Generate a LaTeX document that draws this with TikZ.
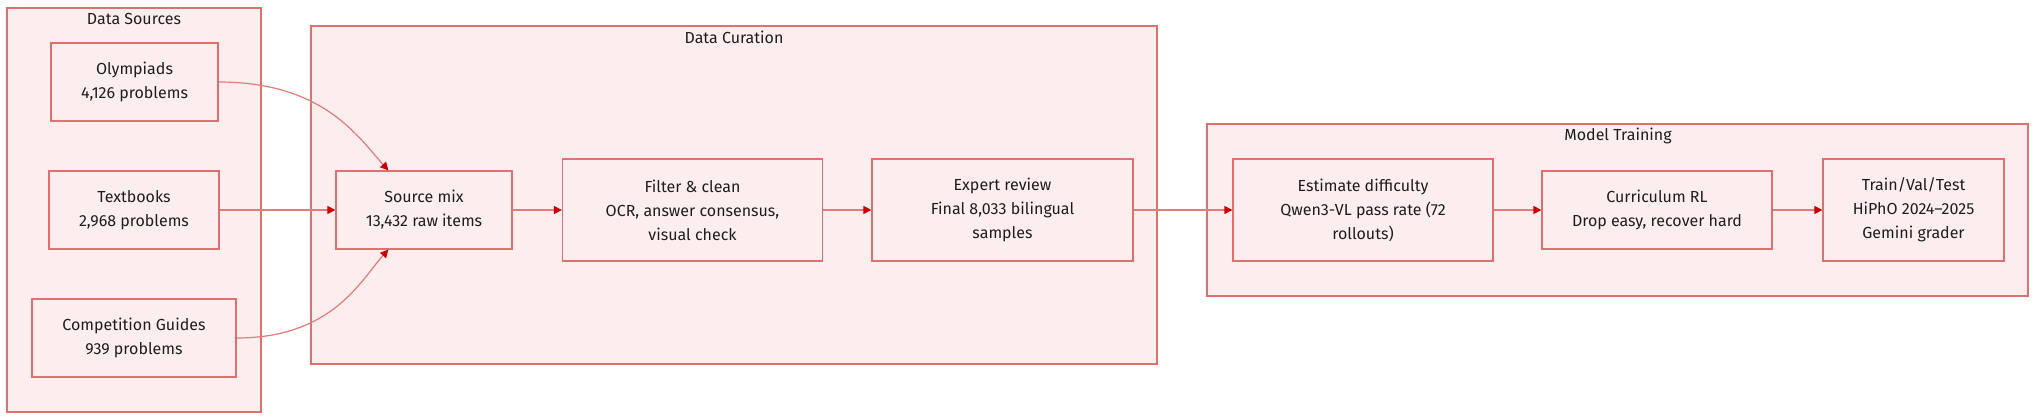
\documentclass[tikz,border=0pt]{standalone}
\usepackage{fontspec}
\setmainfont{Fira Sans}
\usetikzlibrary{arrows.meta}
\definecolor{boxfill}{RGB}{252,238,238}
\definecolor{boxline}{RGB}{222,112,112}
\definecolor{flowline}{RGB}{228,122,122}
\definecolor{tipred}{RGB}{204,0,0}
\definecolor{inktext}{RGB}{30,30,30}

\begin{document}
\begin{tikzpicture}[x=1pt, y=1pt, font=\fontsize{16}{24}\selectfont]
    \useasboundingbox (0,0) rectangle (2037,420);

    % groups
    \begin{scope}[every node/.style={rectangle, fill=boxfill, draw=boxline, line width=1.2pt, inner sep=0pt}]
        \node[minimum width=254pt, minimum height=404pt] (sources) at (134,210) {};
        \node[minimum width=846pt, minimum height=338pt] (curation) at (734,225) {};
        \node[minimum width=821pt, minimum height=172pt] (training) at (1617.5,210) {};
    \end{scope}

    \begin{scope}[every node/.style={text=inktext}]
        \node (sourcestitle) at (134,401) {Data Sources};
        \node (curationtitle) at (734,383) {Data Curation};
        \node (trainingtitle) at (1618,284) {Model Training};
    \end{scope}

    % steps
    \begin{scope}[every node/.style={rectangle, fill=boxfill, draw=boxline, line width=1.2pt, align=center, text=inktext, minimum height=78pt}]
        \node[minimum width=167pt] (olymp) at (134.5,338) {Olympiads\\4,126 problems};
        \node[minimum width=170pt] (textb) at (134,210) {Textbooks\\2,968 problems};
        \node[minimum width=204pt] (guides) at (134,82) {Competition Guides\\939 problems};
        \node[minimum width=176pt] (mix) at (424,210) {Source mix\\13,432 raw items};
        \node[minimum width=260pt, minimum height=102pt] (filter) at (692.5,210) {Filter \& clean\\OCR, answer consensus,\\visual check};
        \node[minimum width=261pt, minimum height=102pt] (review) at (1002.5,210) {Expert review\\Final 8,033 bilingual\\samples};
        \node[minimum width=260pt, minimum height=102pt] (diff) at (1363,210) {Estimate difficulty\\Qwen3-VL pass rate (72\\rollouts)};
        \node[minimum width=230pt] (curric) at (1657,210) {Curriculum RL\\Drop easy, recover hard};
        \node[minimum width=181pt, minimum height=102pt] (split) at (1913.5,210) {Train/Val/Test\\HiPhO 2024–2025\\Gemini grader};
    \end{scope}

    % flow
    \begin{scope}[every edge/.style={draw=flowline, line width=1.2pt, -{Triangle[length=8pt, width=8pt, color=tipred]}}]
        \path (olymp) edge[out=0, in=132, out looseness=1.4, in looseness=0.6] (mix.132);
        \path (textb) edge (mix);
        \path (guides) edge[out=0, in=228, out looseness=1.4, in looseness=0.6] (mix.228);
        \path (mix) edge (filter);
        \path (filter) edge (review);
        \path (review) edge (diff);
        \path (diff) edge (curric);
        \path (curric) edge (split);
    \end{scope}
\end{tikzpicture}
\end{document}
